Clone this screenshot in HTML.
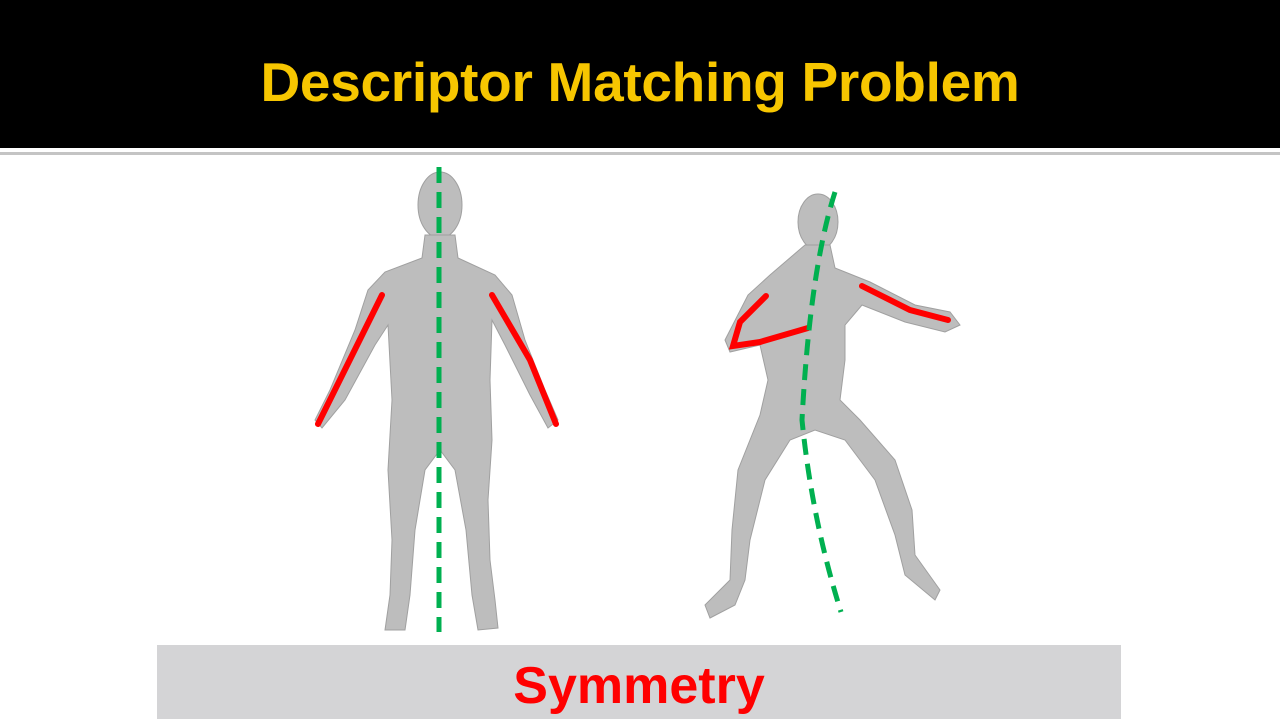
<!DOCTYPE html>
<html><head><style>
html,body{margin:0;padding:0;width:1280px;height:719px;overflow:hidden;background:#fff;font-family:"Liberation Sans",sans-serif}
#hdr{position:absolute;left:0;top:0;width:1280px;height:148px;background:#000}
#title{position:absolute;left:0;top:52px;width:1280px;text-align:center;color:#f7c600;font-weight:bold;font-size:55px;line-height:60px;letter-spacing:-0.3px}
#rule{position:absolute;left:0;top:152px;width:1280px;height:3px;background:#c4c4c4}
#box{position:absolute;left:157px;top:645px;width:964px;height:74px;background:#d4d4d6}
#sym{position:absolute;left:157px;top:656px;width:964px;text-align:center;color:#f00;font-weight:bold;font-size:52px;line-height:60px}
svg{position:absolute;left:0;top:0}
</style></head><body>
<div id="hdr"></div>
<div id="title">Descriptor Matching Problem</div>
<div id="rule"></div>
<svg width="1280" height="719">
<g fill="#bdbdbd" stroke="#a0a0a0" stroke-width="1">
<ellipse cx="440" cy="205" rx="22" ry="33"/>
<path d="M425 235 L455 235 L458 258 L495 275 L512 295 L525 340 L545 390 L558 420 L548 428 L530 395 L505 345 L492 320 L490 380 L492 440 L488 500 L490 560 L495 600 L498 628 L478 630 L472 595 L466 530 L455 470 L440 450 L425 470 L415 530 L410 595 L405 630 L385 630 L390 595 L392 540 L388 470 L392 400 L388 325 L375 345 L345 400 L322 428 L315 420 L330 390 L355 330 L368 290 L385 272 L422 258 Z"/>
<ellipse cx="818" cy="222" rx="20" ry="28"/>
<path d="M805 245 L830 245 L835 268 L870 282 L915 305 L950 312 L960 325 L945 332 L905 322 L862 305 L845 325 L845 360 L840 400 L860 420 L895 460 L912 510 L915 555 L940 590 L935 600 L905 575 L895 535 L875 480 L845 440 L815 430 L790 440 L765 480 L750 540 L745 580 L735 605 L710 618 L705 605 L730 580 L732 530 L738 470 L760 415 L768 380 L760 345 L730 352 L725 340 L748 295 L770 275 Z"/>
</g>
<g stroke="#f00" stroke-width="6" fill="none" stroke-linecap="round">
<path d="M382 295 L318 424"/>
<path d="M492 295 L530 360 L556 424"/>
<path d="M766 296 L740 322 L733 346 L760 342 L808 328"/>
<path d="M862 286 L910 310 L948 320"/>
</g>
<g stroke="#00b050" stroke-width="5" fill="none" stroke-dasharray="16,9">
<path d="M439 167 L439 632"/>
<path d="M835 192 Q810 270 802 420 Q812 520 841 612"/>
</g>
</svg>
<div id="box"></div>
<div id="sym">Symmetry</div>
</body></html>
